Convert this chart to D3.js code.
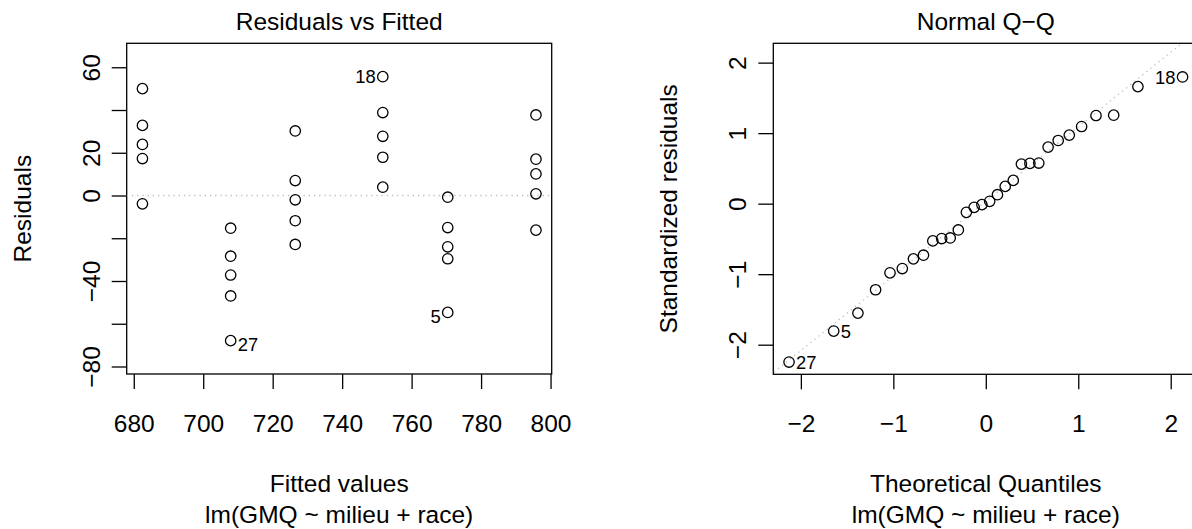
<!DOCTYPE html>
<html>
<head>
<meta charset="utf-8">
<script src="https://cdn.jsdelivr.net/npm/d3@7"></script>
<style>
  body { margin: 0; background: #fff; }
  text { font-family: "Liberation Sans", Arial, sans-serif; }
</style>
</head>
<body>
<script>
// lm(GMQ ~ milieu + race) : residus et QQ-plot
var fittedLevels = [682.5, 707.9, 726.5, 751.7, 770.4, 795.8];  //valeurs ajustees (6 groupes)
var residualsByLevel = [
    [50.0, 32.8, 23.9, 17.3, -3.9],
    [-15.3, -28.4, -37.2, -47.0, -67.9],
    [30.2, 7.0, -2.0, -11.8, -22.9],
    [55.6, 38.8, 27.7, 17.9, 3.9],
    [-0.8, -15.0, -24.0, -29.6, -54.7],
    [37.7, 17.0, 10.1, 0.8, -16.2]
];
var idNames = ["27", "5", "18"];  //observations extremes
var idLevel = [1, 4, 3];
var idIndex = [4, 4, 0];

var theoQuantiles = [-2.128, -1.645, -1.383, -1.192, -1.036, -0.903, -0.783, -0.674, -0.573, -0.477,
    -0.385, -0.297, -0.210, -0.126, -0.042, 0.042, 0.126, 0.210, 0.297, 0.385,
    0.477, 0.573, 0.674, 0.783, 0.903, 1.036, 1.192, 1.383, 1.645, 2.128];
var stdResiduals = [-2.246, -1.807, -1.552, -1.221, -0.981, -0.920, -0.783, -0.731, -0.528, -0.495,
    -0.486, -0.373, -0.123, -0.052, -0.014, 0.033, 0.127, 0.245, 0.330, 0.561,
    0.571, 0.576, 0.802, 0.896, 0.972, 1.094, 1.250, 1.255, 1.660, 1.797];
var qqIdIndex = [0, 1, 29];  //27, 5, 18
var qNorm75 = 0.6745;  //qnorm(0.75)

var fittedTicks = [680, 700, 720, 740, 760, 780, 800];
var residTicks = [-80, -60, -40, -20, 0, 20, 40, 60];
var residTickLabels = [-80, -40, 0, 20, 60];  //R masque les etiquettes qui se chevauchent
var qqTicks = [-2, -1, 0, 1, 2];

var FS = 24.5;  //taille du texte
var FS_ID = 18.4;
var LW = 1.3;

var svg = d3.select("body").append("svg")
    .attr("width", 1192)
    .attr("height", 529);

function padRange(ext) {
    var d = ext[1] - ext[0];
    return [ext[0] - 0.04 * d, ext[1] + 0.04 * d];
}

function panel(box, x, y, xticks, yticks, ylabels, title, xlab, ylab, clipId) {
    var g = svg.append("g");
    // axe x
    g.append("g")
        .attr("transform", "translate(0," + box.y1 + ")")
        .call(d3.axisBottom(x).tickValues(xticks).tickSize(15).tickSizeOuter(0).tickFormat(d3.format("d")))
        .call(function (a) {
            a.attr("font-size", null).attr("font-family", null);
            a.select(".domain").remove();
            a.selectAll("line").attr("stroke", "#000").attr("stroke-width", LW);
            a.selectAll("text").attr("y", 57.5).attr("dy", null)
                .attr("font-size", FS).attr("fill", "#000");
        });
    // axe y
    g.append("g")
        .attr("transform", "translate(" + box.x0 + ",0)")
        .call(d3.axisLeft(y).tickValues(yticks).tickSize(15).tickSizeOuter(0)
            .tickFormat(function (d) { return ylabels.indexOf(d) >= 0 ? d3.format("d")(d) : ""; }))
        .call(function (a) {
            a.attr("font-size", null).attr("font-family", null);
            a.select(".domain").remove();
            a.selectAll("line").attr("stroke", "#000").attr("stroke-width", LW);
            a.selectAll("text").attr("x", null).attr("dy", null)
                .attr("text-anchor", "middle")
                .attr("transform", "translate(-27,0) rotate(-90)")
                .attr("font-size", FS).attr("fill", "#000");
        });
    // cadre
    g.append("rect")
        .attr("x", box.x0).attr("y", box.y0)
        .attr("width", box.x1 - box.x0).attr("height", box.y1 - box.y0)
        .attr("fill", "none").attr("stroke", "#000").attr("stroke-width", LW);
    svg.append("clipPath").attr("id", clipId).append("rect")
        .attr("x", box.x0).attr("y", box.y0)
        .attr("width", box.x1 - box.x0).attr("height", box.y1 - box.y0);

    var cx = (box.x0 + box.x1) / 2;
    g.append("text").attr("x", cx).attr("y", 30).attr("text-anchor", "middle")
        .attr("font-size", FS).text(title);
    g.append("text").attr("x", cx).attr("y", 491.5).attr("text-anchor", "middle")
        .attr("font-size", FS).text(xlab);
    g.append("text").attr("x", cx).attr("y", 523).attr("text-anchor", "middle")
        .attr("font-size", FS).text("lm(GMQ ~ milieu + race)");
    g.append("text")
        .attr("transform", "translate(" + (box.x0 - 96) + "," + ((box.y0 + box.y1) / 2) + ") rotate(-90)")
        .attr("text-anchor", "middle")
        .attr("font-size", FS).text(ylab);
    return g;
}

function idLabel(g, px, py, name, toLeft, dy) {
    g.append("text")
        .attr("x", toLeft ? px - 7 : px + 7)
        .attr("y", py + 0.358 * FS_ID + dy)
        .attr("text-anchor", toLeft ? "end" : "start")
        .attr("font-size", FS_ID)
        .text(name);
}

// ---- Residuals vs Fitted ----
var resPoints = [];
fittedLevels.forEach(function (f, i) {
    residualsByLevel[i].forEach(function (r) { resPoints.push({ x: f, y: r }); });
});
var boxL = { x0: 126.7, x1: 551.7, y0: 43.3, y1: 374 };
var xExt = d3.extent(resPoints, function (d) { return d.x; });
var yExt = d3.extent(resPoints, function (d) { return d.y; });
var yd = yExt[1] - yExt[0];
var xL = d3.scaleLinear().domain(padRange(xExt)).range([boxL.x0, boxL.x1]);
var yL = d3.scaleLinear().domain(padRange([yExt[0] - 0.08 * yd, yExt[1] + 0.08 * yd])).range([boxL.y1, boxL.y0]);

var gL = panel(boxL, xL, yL, fittedTicks, residTicks, residTickLabels,
    "Residuals vs Fitted", "Fitted values", "Residuals", "clipL");

gL.append("line")  //ligne h = 0
    .attr("clip-path", "url(#clipL)")
    .attr("x1", boxL.x0).attr("x2", boxL.x1)
    .attr("y1", yL(0)).attr("y2", yL(0))
    .attr("stroke", "#bebebe").attr("stroke-width", 1.3)
    .attr("stroke-dasharray", "1.3,3.9");

gL.selectAll(".pt").data(resPoints).enter().append("circle")
    .attr("cx", function (d) { return xL(d.x); })
    .attr("cy", function (d) { return yL(d.y); })
    .attr("r", 5.2)
    .attr("fill", "none").attr("stroke", "#000").attr("stroke-width", 1.3);

var midL = (xExt[0] + xExt[1]) / 2;
idNames.forEach(function (n, k) {
    var f = fittedLevels[idLevel[k]];
    var r = residualsByLevel[idLevel[k]][idIndex[k]];
    idLabel(gL, xL(f), yL(r), n, f > midL, r < 0 ? 4 : 0);
});

// ---- Normal Q-Q ----
var boxR = { x0: 773.3, x1: 1198.3, y0: 43.3, y1: 374.3 };
var qxExt = d3.extent(theoQuantiles);
var qyExt = d3.extent(stdResiduals);
qyExt[1] += 0.075 * (qyExt[1] - qyExt[0]);
var xR = d3.scaleLinear().domain(padRange(qxExt)).range([boxR.x0, boxR.x1]);
var yR = d3.scaleLinear().domain(padRange(qyExt)).range([boxR.y1, boxR.y0]);

var gR = panel(boxR, xR, yR, qqTicks, qqTicks, qqTicks,
    "Normal Q\u2212Q", "Theoretical Quantiles", "Standardized residuals", "clipR");

// qqline par les quartiles
var q1 = d3.quantile(stdResiduals, 0.25);
var q3 = d3.quantile(stdResiduals, 0.75);
var slope = (q3 - q1) / (2 * qNorm75);
var inter = q1 + slope * qNorm75;
var xd = xR.domain();
gR.append("line")
    .attr("clip-path", "url(#clipR)")
    .attr("x1", xR(xd[0] - 1)).attr("y1", yR(inter + slope * (xd[0] - 1)))
    .attr("x2", xR(xd[1] + 1)).attr("y2", yR(inter + slope * (xd[1] + 1)))
    .attr("stroke", "#bebebe").attr("stroke-width", 1.3)
    .attr("stroke-dasharray", "1.3,3.9");

gR.selectAll(".pt").data(theoQuantiles).enter().append("circle")
    .attr("cx", function (d) { return xR(d); })
    .attr("cy", function (d, i) { return yR(stdResiduals[i]); })
    .attr("r", 5.2)
    .attr("fill", "none").attr("stroke", "#000").attr("stroke-width", 1.3);

qqIdIndex.forEach(function (i, k) {
    idLabel(gR, xR(theoQuantiles[i]), yR(stdResiduals[i]), idNames[k], theoQuantiles[i] > 0, 0);
});
</script>
</body>
</html>
